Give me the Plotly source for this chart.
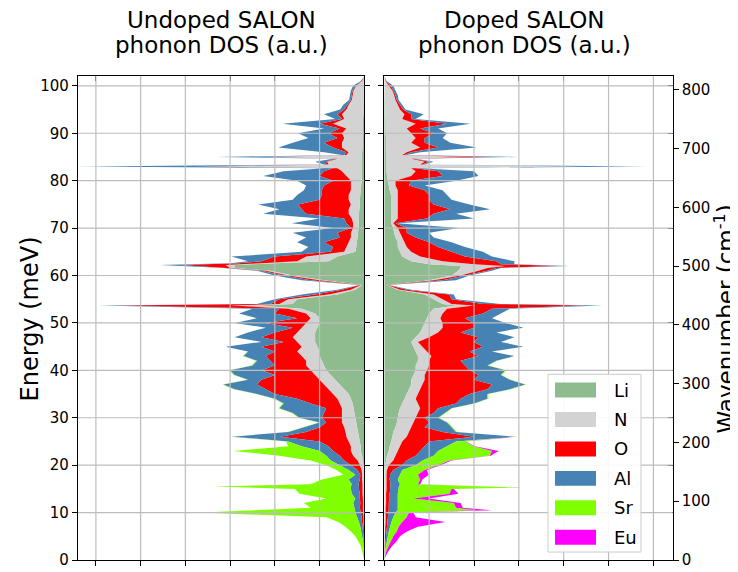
import plotly.graph_objects as go

# ---------------- data ----------------
# energies in meV, DOS in arbitrary units, stacked outward from the shared spine
energy_undoped = [
    0, 1, 2, 3, 4, 5, 6, 7, 8, 9,
    10, 11, 12, 13, 14, 15, 15.5, 16, 17, 18, 19,
    20, 21, 22, 23, 24, 25, 26, 27, 28, 29,
    30, 31, 32, 33, 34, 35, 36, 37, 38, 39,
    40, 41, 42, 43, 44, 45, 46, 47, 48, 49,
    50, 51, 52, 53, 53.7, 54, 55, 56, 57, 58, 59,
    60, 61, 61.6, 62.2, 62.6, 63, 64, 65, 66, 67, 68, 69,
    70, 71, 72, 73, 74, 75, 76, 77, 78, 79,
    80, 81, 82, 82.6, 83, 83.4, 84, 84.6, 85, 85.4, 86, 87, 88, 89,
    90, 91, 92, 93, 94, 95, 96, 97, 98, 99,
    100, 101, 102,
]
li_undoped = [
    0, 0, 0, 0, 0, 0, 0, 0, 0, 0,
    0, 0, 0, 0, 0, 0, 0, 0, 0, 0, 0.01,
    0.02, 0.03, 0.05, 0.08, 0.08, 0.10, 0.12, 0.14, 0.16, 0.18,
    0.20, 0.22, 0.24, 0.26, 0.30, 0.35, 0.45, 0.55, 0.65, 0.75,
    0.85, 0.90, 0.95, 1.00, 1.00, 1.05, 1.10, 1.10, 1.10, 1.05,
    1.00, 1.00, 1.10, 1.40, 2.40, 1.60, 1.50, 0.60, 0.20, 0.05, 0.90,
    1.60, 2.10, 2.90, 2.90, 2.00, 0.80, 0.60, 0.20, 0.18, 0.17, 0.15, 0.14,
    0.13, 0.13, 0.12, 0.12, 0.11, 0.10, 0.10, 0.09, 0.08, 0.07,
    0.06, 0.06, 0.05, 0.05, 0.05, 0.05, 0.05, 0.05, 0.05, 0.05, 0.05, 0.04, 0.04, 0.04,
    0.03, 0.03, 0.03, 0.03, 0.02, 0.02, 0.02, 0.01, 0.01, 0.01,
    0, 0, 0,
]
n_undoped = [
    0, 0, 0, 0.005, 0.01, 0.01, 0.01, 0.015, 0.02, 0.02,
    0.03, 0.03, 0.03, 0.03, 0.04, 0.04, 0.04, 0.04, 0.05, 0.05, 0.05,
    0.08, 0.12, 0.20, 0.22, 0.22, 0.25, 0.28, 0.28, 0.29, 0.32,
    0.30, 0.28, 0.26, 0.29, 0.30, 0.35, 0.35, 0.35, 0.35, 0.35,
    0.35, 0.40, 0.35, 0.40, 0.50, 0.35, 0.40, 0.50, 0.40, 0.35,
    0.30, 0.20, 0.20, 0.30, 0.60, 0.30, 0.20, 0.20, 0.10, 0.03, 0.10,
    0.10, 0.10, 0.10, 0.20, 0.30, 0.70, 0.70, 0.25, 0.22, 0.18, 0.15, 0.16,
    0.12, 0.12, 0.16, 0.23, 0.24, 0.20, 0.25, 0.26, 0.22, 0.23,
    0.24, 0.34, 0.45, 0.55, 3.55, 0.75, 0.78, 0.55, 2.15, 0.35, 0.30, 0.46, 0.46, 0.41,
    0.47, 0.37, 0.67, 0.42, 0.48, 0.38, 0.33, 0.27, 0.25, 0.23,
    0.18, 0.05, 0,
]
o_undoped = [
    0, 0, 0.005, 0.005, 0.005, 0.01, 0.02, 0.025, 0.03, 0.04,
    0.05, 0.07, 0.06, 0.07, 0.06, 0.08, 0.08, 0.09, 0.05, 0.04, 0.09,
    0.20, 0.30, 0.30, 0.40, 0.50, 0.65, 1.48, 0.88, 0.55, 0.35,
    0.45, 0.40, 0.35, 0.65, 0.90, 1.30, 1.40, 1.50, 1.30, 0.90,
    1.10, 0.70, 0.80, 0.80, 0.50, 0.90, 0.30, 0.70, 0.50, 0.20,
    0.90, 0.30, 0.70, 0.20, 2.54, 0.20, 0.20, 0.30, 0.20, 0.02, 0.20,
    0.10, 0.10, 0.10, 1.02, 0.50, 0.80, 0.70, 0.30, 0.30, 0.55, 0.25, 0.30,
    0.05, 0.15, 0.17, 0.95, 1.05, 1.18, 0.65, 0.60, 0.65, 0.60,
    0.40, 0.60, 0.40, 0.10, 0.20, 0.05, 0.03, 0.05, 0.10, 0.05, 0.05, 0.20, 0.40, 0.15,
    0.30, 0.15, 0.30, 0.05, 0.10, 0.05, 0.03, 0.02, 0.02, 0.02,
    0.02, 0.01, 0,
]
al_undoped = [
    0, 0.005, 0.005, 0.01, 0.015, 0.03, 0.04, 0.05, 0.07, 0.10,
    0.12, 0.12, 0.16, 0.10, 0.18, 0.18, 0.18, 0.15, 0.25, 0.11, 0.20,
    0.25, 0.30, 0.30, 0.30, 0.60, 0.70, 1.08, 0.40, 0.35, 0.15,
    0.50, 0.70, 1.05, 0.60, 0.50, 0.40, 0.70, 0.75, 0.30, 0.90,
    0.70, 0.50, 0.30, 0.50, 0.60, 0.80, 0.50, 0.60, 0.60, 0.60,
    0.70, 0.90, 0.80, 0.60, 0.41, 0.30, 0.10, 0.30, 0.10, 0.02, 0.20,
    0.20, 0.10, 0.05, 0.45, 0.20, 0.30, 0.97, 0.65, 0.55, 0.60, 0.75, 1.00,
    0.40, 1.22, 0.55, 0.96, 0.50, 0.89, 0.60, 0.55, 0.40, 0.40,
    0.80, 1.26, 0.90, 0.20, 2.60, 0.05, 0.24, 0.05, 1.00, 0.05, 0.50, 1.22, 0.70, 0.65,
    0.68, 0.35, 0.83, 0.15, 0.30, 0.09, 0.09, 0.04, 0.04, 0.04,
    0.05, 0.02, 0,
]
sr_undoped = [
    0, 0.025, 0.04, 0.06, 0.11, 0.15, 0.23, 0.33, 0.46, 0.69,
    3.44, 0.98, 1.10, 0.65, 1.17, 1.25, 3.08, 0.92, 0.60, 0.27, 0.27,
    0.30, 0.45, 1.05, 1.93, 0.30, 0.05, 0.02, 0.02, 0.02, 0.02,
    0.02, 0.02, 0.02, 0.02, 0.02, 0.02, 0.02, 0.02, 0.02, 0.02,
    0.02, 0.02, 0.02, 0.02, 0, 0, 0, 0, 0, 0,
    0, 0, 0, 0, 0, 0, 0, 0, 0, 0, 0,
    0, 0, 0, 0, 0, 0, 0, 0, 0, 0, 0, 0,
    0, 0, 0, 0, 0, 0, 0, 0, 0, 0,
    0, 0, 0, 0, 0, 0, 0, 0, 0, 0, 0, 0, 0, 0,
    0, 0, 0, 0, 0, 0, 0, 0, 0, 0,
    0, 0, 0,
]

energy_doped = [
    0, 1, 2, 3, 4, 5, 6, 7, 8, 9,
    10, 10.5, 11, 12, 13, 14, 15, 15.3, 16, 17, 18, 19,
    20, 21, 22, 23, 24, 25, 26, 27, 28, 29,
    30, 31, 32, 33, 34, 35, 36, 37, 38, 39,
    40, 41, 42, 43, 44, 45, 46, 47, 48, 49,
    50, 51, 52, 53, 53.7, 54, 55, 56, 57, 58, 59,
    60, 61, 61.6, 62, 62.4, 63, 64, 65, 66, 67, 68, 69,
    70, 71, 72, 73, 74, 75, 76, 77, 78, 79,
    80, 81, 82, 82.6, 83, 83.4, 84, 84.6, 85, 85.4, 86, 87, 88, 89,
    90, 91, 92, 93, 94, 95, 96, 97, 98, 99,
    100, 101, 102,
]
li_doped = [
    0, 0, 0, 0, 0, 0, 0, 0, 0, 0,
    0, 0, 0, 0, 0, 0, 0, 0, 0, 0, 0, 0.01,
    0.02, 0.04, 0.06, 0.10, 0.12, 0.15, 0.18, 0.20, 0.25, 0.28,
    0.30, 0.32, 0.35, 0.40, 0.45, 0.50, 0.55, 0.60, 0.60, 0.65,
    0.70, 0.70, 0.75, 0.75, 0.70, 0.65, 0.60, 0.70, 0.80, 0.85,
    0.90, 0.95, 1.00, 1.10, 1.60, 1.30, 1.10, 0.90, 0.30, 0.05, 1.00,
    1.50, 1.65, 1.70, 1.70, 1.00, 0.60, 0.40, 0.35, 0.30, 0.30, 0.25, 0.22,
    0.20, 0.15, 0.15, 0.15, 0.15, 0.15, 0.15, 0.15, 0.12, 0.10,
    0.08, 0.06, 0.05, 0.05, 0.05, 0.05, 0.05, 0.05, 0.05, 0.05, 0.04, 0.04, 0.04, 0.04,
    0.03, 0.03, 0.03, 0.03, 0.02, 0.02, 0.02, 0.01, 0.01, 0.01,
    0, 0, 0,
]
n_doped = [
    0, 0, 0.005, 0.01, 0.01, 0.015, 0.02, 0.02, 0.03, 0.03,
    0.03, 0.03, 0.03, 0.04, 0.04, 0.04, 0.05, 0.05, 0.05, 0.05, 0.05, 0.05,
    0.08, 0.16, 0.19, 0.20, 0.23, 0.25, 0.32, 0.35, 0.35, 0.37,
    0.40, 0.43, 0.45, 0.35, 0.25, 0.25, 0.25, 0.25, 0.30, 0.25,
    0.25, 0.30, 0.25, 0.30, 0.25, 0.20, 0.15, 0.30, 0.40, 0.45,
    0.40, 0.30, 0.30, 0.30, 0.40, 0.20, 0.20, 0.20, 0.05, 0.02, 0.10,
    0.20, 0.45, 0.60, 1.00, 1.00, 0.70, 0.40, 0.25, 0.20, 0.15, 0.15, 0.13,
    0.10, 0.05, 0.15, 0.15, 0.15, 0.15, 0.15, 0.15, 0.18, 0.15,
    0.17, 0.54, 0.65, 0.55, 4.35, 0.75, 0.85, 0.55, 1.85, 0.35, 0.46, 0.76, 0.56, 0.66,
    0.57, 0.47, 0.67, 0.37, 0.43, 0.33, 0.28, 0.24, 0.21, 0.17,
    0.10, 0.03, 0,
]
o_doped = [
    0, 0, 0.005, 0.01, 0.02, 0.025, 0.03, 0.04, 0.04, 0.05,
    0.06, 0.07, 0.07, 0.06, 0.08, 0.08, 0.08, 0.08, 0.09, 0.07, 0.08, 0.14,
    0.30, 0.30, 0.45, 0.50, 0.55, 0.60, 1.50, 0.75, 0.30, 0.35,
    0.20, 0.35, 0.40, 0.85, 1.00, 1.15, 1.50, 1.55, 1.10, 1.20,
    0.95, 0.80, 0.70, 1.05, 0.95, 1.35, 1.25, 1.10, 0.50, 0.70,
    0.70, 0.55, 0.90, 1.00, 2.50, 0.70, 0.20, 0.35, 0.15, 0.02, 0.20,
    0.10, 0.20, 0.20, 1.20, 0.60, 1.20, 1.00, 0.90, 0.70, 0.55, 0.30, 0.15,
    0.20, 0.05, 0.65, 0.80, 1.17, 0.80, 0.70, 0.70, 0.60, 0.30,
    0.35, 0.70, 0.50, 0.10, 0.10, 0.05, 0.10, 0.05, 0.50, 0.05, 0.10, 0.40, 0.30, 0.20,
    0.50, 0.30, 0.70, 0.20, 0.15, 0.07, 0.05, 0.03, 0.03, 0.02,
    0.05, 0.01, 0,
]
al_doped = [
    0, 0.005, 0.01, 0.02, 0.03, 0.04, 0.05, 0.07, 0.09, 0.12,
    0.16, 0.20, 0.20, 0.20, 0.18, 0.18, 0.19, 0.19, 0.21, 0.18, 0.22, 0.20,
    0.30, 0.35, 0.40, 0.40, 0.50, 0.60, 0.92, 0.30, 0.60, 0.40,
    0.30, 0.25, 0.30, 0.40, 0.60, 0.40, 0.50, 0.74, 0.80, 0.50,
    0.80, 0.50, 0.80, 0.80, 0.50, 0.90, 0.60, 0.80, 0.80, 1.10,
    0.70, 0.60, 0.40, 0.40, 0.36, 0.38, 0.10, 0.10, 0.10, 0.01, 0.30,
    0.10, 0.10, 0.10, 0.24, 0.30, 0.40, 0.60, 0.70, 0.60, 0.50, 0.40, 0.50,
    1.16, 0.05, 1.05, 0.50, 0.89, 0.80, 0.50, 0.40, 0.40, 0.35,
    1.00, 0.80, 0.80, 0.10, 1.35, 0.05, 0.10, 0.05, 0.59, 0.05, 0.20, 0.86, 0.57, 0.40,
    0.30, 0.40, 0.52, 0.10, 0.28, 0.05, 0.05, 0.04, 0.05, 0.05,
    0.05, 0.01, 0,
]
sr_doped = [
    0, 0.015, 0.03, 0.06, 0.09, 0.12, 0.18, 0.19, 0.24, 0.30,
    0.30, 1.76, 1.30, 1.25, 0.35, 1.15, 1.18, 2.68, 0.40, 0.50, 0.40, 0.50,
    0.50, 0.60, 1.25, 1.20, 0.60, 0.20, 0.03, 0.02, 0.02, 0.02,
    0.02, 0.02, 0.02, 0.02, 0.02, 0.02, 0.02, 0.02, 0.02, 0.02,
    0.02, 0.02, 0.02, 0, 0, 0, 0, 0, 0, 0,
    0, 0, 0, 0, 0, 0, 0, 0, 0, 0, 0,
    0, 0, 0, 0, 0, 0, 0, 0, 0, 0, 0, 0,
    0, 0, 0, 0, 0, 0, 0, 0, 0, 0,
    0, 0, 0, 0, 0, 0, 0, 0, 0, 0, 0, 0, 0, 0,
    0, 0, 0, 0, 0, 0, 0, 0, 0, 0,
    0, 0, 0,
]
eu_doped = [
    0, 0.02, 0.05, 0.08, 0.13, 0.15, 0.22, 0.43, 0.96, 0.20,
    0.10, 0.34, 0.15, 0.15, 0.34, 0.20, 0.05, 0.03, 0.05, 0.05, 0.24, 0.05,
    0.05, 0.05, 0.02, 0.15, 0.02, 0.02, 0.01, 0, 0, 0,
    0, 0, 0, 0, 0, 0, 0, 0, 0, 0,
    0, 0, 0, 0, 0, 0, 0, 0, 0, 0,
    0, 0, 0, 0, 0, 0, 0, 0, 0, 0, 0,
    0, 0, 0, 0, 0, 0, 0, 0, 0, 0, 0, 0,
    0, 0, 0, 0, 0, 0, 0, 0, 0, 0,
    0, 0, 0, 0, 0, 0, 0, 0, 0, 0, 0, 0, 0, 0,
    0, 0, 0, 0, 0, 0, 0, 0, 0, 0,
    0, 0, 0,
]

species = ["Li", "N", "O", "Al", "Sr", "Eu"]
colors = {"Li": "#8fbc8f", "N": "#d3d3d3", "O": "#ff0000",
          "Al": "#4682b4", "Sr": "#7fff00", "Eu": "#ff00ff"}

undoped = dict(zip(species, [li_undoped, n_undoped, o_undoped, al_undoped, sr_undoped]))
doped = dict(zip(species, [li_doped, n_doped, o_doped, al_doped, sr_doped, eu_doped]))

for vals in undoped.values():
    assert len(vals) == len(energy_undoped)
for vals in doped.values():
    assert len(vals) == len(energy_doped)

E_MAX = 102.1          # top of the energy axis (meV)
MEV_TO_CM = 8.0655     # 1 meV in cm^-1
X_MAX_L, X_MAX_R = 6.4, 6.43

# ---------------- figure ----------------
W, H = 738, 572
# the page puts the figure 8px in from the corner and squeezes it to ~564px high,
# so screen positions are mapped back to paper fractions here
OX, OY, HE = 8, 8, 564
FONT = "DejaVu Sans, Verdana, sans-serif"


def px(x):
    return (x - OX) / W


def py(y):
    return 1 - (y - OY) / HE


fig = go.Figure()

for name, vals in undoped.items():
    fig.add_trace(go.Scatter(
        x=vals, y=energy_undoped, orientation="h", stackgroup="undoped",
        mode="none", fillcolor=colors[name], name=name, showlegend=False,
        xaxis="x", yaxis="y", hoverinfo="skip",
    ))

for name, vals in doped.items():
    fig.add_trace(go.Scatter(
        x=vals, y=energy_doped, orientation="h", stackgroup="doped",
        mode="none", fillcolor=colors[name], name=name, showlegend=False,
        xaxis="x2", yaxis="y2", hoverinfo="skip",
    ))

# empty traces so the overlay axes (top ticks, wavenumber scale) get drawn
for xa, ya in [("x3", "y"), ("x4", "y2"), ("x2", "y3"), ("x2", "y4")]:
    fig.add_trace(go.Scatter(x=[None], y=[None], xaxis=xa, yaxis=ya, mode="markers",
                             showlegend=False, hoverinfo="skip"))

ydom = [py(561), py(76)]
axis_common = dict(showgrid=False, zeroline=False, linecolor="black", linewidth=1.3,
                   tickcolor="black", tickwidth=1.2, ticklen=5,
                   tickfont=dict(family=FONT, size=15, color="black"))

fig.update_layout(
    width=W, height=H,
    margin=dict(l=0, r=0, t=0, b=0),
    paper_bgcolor="white", plot_bgcolor="white",
    showlegend=False,
    xaxis=dict(domain=[px(78), px(364.3)], range=[X_MAX_L, 0], dtick=1, tick0=0,
               ticks="outside", showticklabels=False, showline=True, mirror=True,
               anchor="y", **axis_common),
    xaxis3=dict(overlaying="x", side="top", anchor="y", range=[X_MAX_L, 0], dtick=1,
                tick0=0, ticks="inside", showticklabels=False, showline=False,
                **axis_common),
    yaxis=dict(domain=ydom, range=[0, E_MAX], dtick=10, tick0=0, ticks="outside",
               showline=True, mirror="ticks", anchor="x", **axis_common),
    xaxis2=dict(domain=[px(384.3), px(672.7)], range=[0, X_MAX_R], dtick=1, tick0=0,
                ticks="outside", showticklabels=False, showline=True, mirror=True,
                anchor="y2", **axis_common),
    xaxis4=dict(overlaying="x2", side="top", anchor="y2", range=[0, X_MAX_R], dtick=1,
                tick0=0, ticks="inside", showticklabels=False, showline=False,
                **axis_common),
    yaxis2=dict(domain=ydom, range=[0, E_MAX], dtick=10, tick0=0, ticks="outside",
                showticklabels=False, showline=True, mirror=True, anchor="x2",
                **axis_common),
    yaxis3=dict(overlaying="y2", side="right", anchor="x2",
                range=[0, E_MAX * MEV_TO_CM], dtick=100, tick0=0, ticks="outside",
                showline=False, **axis_common),
    yaxis4=dict(overlaying="y2", side="right", anchor="x2", range=[0, E_MAX],
                dtick=10, tick0=0, ticks="inside", showticklabels=False,
                showline=False, **axis_common),
)

# grid drawn on top of the filled areas, as in the original
grid = dict(color="#bdbdbd", width=1.2)
for xa, ya, xmax in [("x", "y", X_MAX_L), ("x2", "y2", X_MAX_R)]:
    for e in range(10, 101, 10):
        fig.add_shape(type="line", xref=f"{xa} domain", yref=ya, x0=0, x1=1,
                      y0=e, y1=e, line=grid, layer="above")
    for v in range(1, int(xmax) + 1):
        fig.add_shape(type="line", xref=xa, yref=f"{ya} domain", x0=v, x1=v,
                      y0=0, y1=1, line=grid, layer="above")

# legend box (drawn by hand to get matplotlib-style patches)
fig.add_shape(type="rect", xref="paper", yref="paper", x0=px(548), x1=px(641),
              y0=py(553), y1=py(375), fillcolor="rgba(255,255,255,0.9)",
              line=dict(color="#cccccc", width=1), layer="above")
for i, name in enumerate(species):
    yc = 390.7 + 29.5 * i
    fig.add_shape(type="rect", xref="paper", yref="paper", x0=px(555), x1=px(596),
                  y0=py(yc + 7.5), y1=py(yc - 7.5), fillcolor=colors[name],
                  line=dict(width=0), layer="above")
    fig.add_annotation(text=name, xref="paper", yref="paper", x=px(612), y=py(yc),
                       xanchor="left", yanchor="middle", showarrow=False,
                       font=dict(family=FONT, size=18, color="black"))

# panel titles (two lines each) and axis titles
titles = [("Undoped SALON", "phonon DOS (a.u.)", 221),
          ("Doped SALON", "phonon DOS (a.u.)", 524)]
for line1, line2, xc in titles:
    for text, yc in [(line1, 20), (line2, 45)]:
        fig.add_annotation(text=text, xref="paper", yref="paper", x=px(xc), y=py(yc),
                           xanchor="center", yanchor="middle", showarrow=False,
                           font=dict(family=FONT, size=23, color="black"))

fig.add_annotation(text="Energy (meV)", xref="paper", yref="paper", x=px(30), y=py(320),
                   textangle=-90, showarrow=False, xanchor="center", yanchor="middle",
                   font=dict(family=FONT, size=24, color="black"))
fig.add_annotation(text="Wavenumber (cm<sup>-1</sup>)", xref="paper", yref="paper",
                   x=px(725), y=py(320), textangle=-90, showarrow=False,
                   xanchor="center", yanchor="middle",
                   font=dict(family=FONT, size=23, color="black"))

fig.write_html("out.html")
